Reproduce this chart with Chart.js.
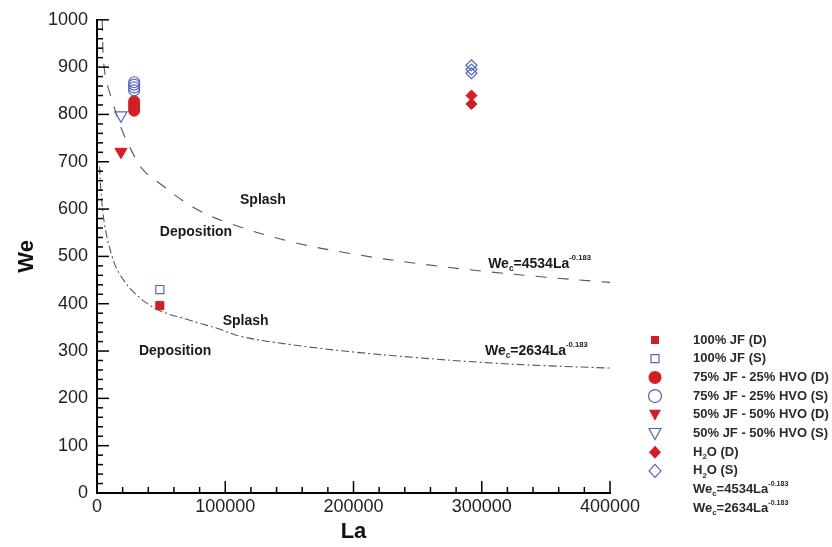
<!DOCTYPE html>
<html lang="en">
<head>
    <meta charset="UTF-8">
    <title>We vs La</title>
    <script src="https://cdn.jsdelivr.net/npm/chart.js"></script>
    <style>
        body {
            margin: 0;
            padding: 0;
            background-color: #ffffff;
        }
        #chartContainer {
            width: 832px;
            height: 547px;
            position: relative;
        }
    </style>
</head>
<body>
    <div id="chartContainer">
        <canvas id="weChart"></canvas>
    </div>
    <script>
        // Data
        const jfD_La = [49000];
        const jfD_We = [396];
        const jfS_La = [49000];
        const jfS_We = [430];
        const jf75D_La = [29000, 29000, 29000, 29000, 29000];
        const jf75D_We = [808, 813, 818, 823, 828];
        const jf75S_La = [29000, 29000, 29000, 29000];
        const jf75S_We = [851, 857, 863, 868];
        const jf50D_La = [18700];
        const jf50D_We = [721];
        const jf50S_La = [18700];
        const jf50S_We = [798];
        const h2oD_La = [292000, 292000];
        const h2oD_We = [822, 840];
        const h2oS_La = [292000, 292000, 292000];
        const h2oS_We = [887, 895, 904];

        // critical curves, points
        const curveHi_La = [4000, 6000, 12500, 19500, 27000, 36000, 50000, 75000, 100000, 150000, 200000, 250000, 300000, 350000, 400000];
        const curveHi_We = [1000, 890, 824, 767, 723, 683, 652, 604, 573, 532, 505, 485, 469, 456, 445];
        const curveLo_La = [2000, 3000, 6000, 12000, 18000, 30000, 47000, 70000, 96000, 112000, 150000, 200000, 250000, 300000, 350000, 400000];
        const curveLo_We = [690, 641, 566, 498, 461, 421, 388, 367, 346, 331, 314, 298, 286, 276, 269, 264];

        const xTicks = [0, 100000, 200000, 300000, 400000];
        const yTicks = [0, 100, 200, 300, 400, 500, 600, 700, 800, 900, 1000];

        // text placed on the plot (data coordinates)
        const plotLabels = [
            { la: 111500, we: 618, parts: [{ t: 'Splash' }] },
            { la: 49000, we: 551, parts: [{ t: 'Deposition' }] },
            { la: 98000, we: 363, parts: [{ t: 'Splash' }] },
            { la: 32700, we: 300, parts: [{ t: 'Deposition' }] },
            { la: 305000, we: 484, parts: [{ t: 'We' }, { t: 'c', sub: true }, { t: '=4534La' }, { t: '-0.183', sup: true }] },
            { la: 302500, we: 300, parts: [{ t: 'We' }, { t: 'c', sub: true }, { t: '=2634La' }, { t: '-0.183', sup: true }] }
        ];

        const RED = '#d21f26';
        const BLUE = '#5468b8';
        const FONT = "'Liberation Sans', Arial, sans-serif";

        function pts(xs, ys) {
            return xs.map((x, i) => ({ x: x, y: ys[i] }));
        }

        const legendItems = [
            { shape: 'square', fill: true, parts: [{ t: '100% JF (D)' }] },
            { shape: 'square', fill: false, parts: [{ t: '100% JF (S)' }] },
            { shape: 'circle', fill: true, parts: [{ t: '75% JF - 25% HVO (D)' }] },
            { shape: 'circle', fill: false, parts: [{ t: '75% JF - 25% HVO (S)' }] },
            { shape: 'tri', fill: true, parts: [{ t: '50% JF - 50% HVO (D)' }] },
            { shape: 'tri', fill: false, parts: [{ t: '50% JF - 50% HVO (S)' }] },
            { shape: 'diamond', fill: true, parts: [{ t: 'H' }, { t: '2', sub: true }, { t: 'O (D)' }] },
            { shape: 'diamond', fill: false, parts: [{ t: 'H' }, { t: '2', sub: true }, { t: 'O (S)' }] },
            { shape: null, parts: [{ t: 'We' }, { t: 'c', sub: true }, { t: '=4534La' }, { t: '-0.183', sup: true }] },
            { shape: null, parts: [{ t: 'We' }, { t: 'c', sub: true }, { t: '=2634La' }, { t: '-0.183', sup: true }] }
        ];

        // draws text with sub/superscripts, left aligned, vertically centred on y
        function drawRich(ctx, parts, x, y, size) {
            ctx.textBaseline = 'middle';
            ctx.textAlign = 'left';
            let cx = x;
            parts.forEach(p => {
                let s = size, dy = 0;
                if (p.sub) { s = size * 0.6; dy = size * 0.35; }
                if (p.sup) { s = size * 0.55; dy = -size * 0.42; }
                ctx.font = 'bold ' + s + 'px ' + FONT;
                ctx.fillText(p.t, cx, y + dy);
                cx += ctx.measureText(p.t).width;
            });
        }

        function drawMarker(ctx, shape, fill, x, y) {
            ctx.beginPath();
            if (shape === 'square') {
                ctx.rect(x - 4, y - 4, 8, 8);
            } else if (shape === 'circle') {
                ctx.arc(x, y, 6.5, 0, Math.PI * 2);
            } else if (shape === 'tri') {
                ctx.moveTo(x - 6, y - 5);
                ctx.lineTo(x + 6, y - 5);
                ctx.lineTo(x, y + 6);
                ctx.closePath();
            } else if (shape === 'diamond') {
                ctx.moveTo(x, y - 6.5);
                ctx.lineTo(x + 6, y);
                ctx.lineTo(x, y + 6.5);
                ctx.lineTo(x - 6, y);
                ctx.closePath();
            }
            if (fill) {
                ctx.fillStyle = RED;
                ctx.fill();
            } else {
                ctx.strokeStyle = BLUE;
                ctx.lineWidth = 1.2;
                ctx.stroke();
            }
        }

        // inward major/minor ticks, labels on plot, legend
        const decorPlugin = {
            id: 'decor',
            afterDraw(chart) {
                const ctx = chart.ctx;
                const xs = chart.scales.x, ys = chart.scales.y;
                const area = chart.chartArea;
                ctx.save();
                ctx.strokeStyle = '#000';
                ctx.lineWidth = 1.5;
                for (let v = 0; v <= 400000; v += 20000) {
                    const px = xs.getPixelForValue(v);
                    const len = v % 100000 === 0 ? 12 : 6;
                    ctx.beginPath();
                    ctx.moveTo(px, area.bottom);
                    ctx.lineTo(px, area.bottom - len);
                    ctx.stroke();
                }
                for (let v = 0; v <= 1000; v += 20) {
                    const py = ys.getPixelForValue(v);
                    const len = v % 100 === 0 ? 12 : 6;
                    ctx.beginPath();
                    ctx.moveTo(area.left, py);
                    ctx.lineTo(area.left + len, py);
                    ctx.stroke();
                }

                ctx.fillStyle = '#1a1a1a';
                plotLabels.forEach(l => {
                    drawRich(ctx, l.parts, xs.getPixelForValue(l.la), ys.getPixelForValue(l.we), 14);
                });

                // legend
                const lx = 655, tx = 693, ly0 = 340, step = 18.7;
                legendItems.forEach((it, i) => {
                    const y = ly0 + i * step;
                    if (it.shape) drawMarker(ctx, it.shape, it.fill, lx, y);
                    ctx.fillStyle = '#2a2a2a';
                    drawRich(ctx, it.parts, tx, y, 13);
                });
                ctx.restore();
            }
        };

        const markerSet = (label, xs, ys, style, filled, radius, rotation) => ({
            label: label,
            data: pts(xs, ys),
            pointStyle: style,
            pointRadius: radius,
            pointRotation: rotation || 0,
            pointBackgroundColor: filled ? RED : 'rgba(0,0,0,0)',
            pointBorderColor: filled ? RED : BLUE,
            pointBorderWidth: filled ? 1 : 1.2,
            showLine: false,
            order: 0
        });

        const ctx = document.getElementById('weChart').getContext('2d');
        const chart = new Chart(ctx, {
            type: 'scatter',
            data: {
                datasets: [
                    markerSet('100% JF (D)', jfD_La, jfD_We, 'rect', true, 5.7),
                    markerSet('100% JF (S)', jfS_La, jfS_We, 'rect', false, 5.7),
                    markerSet('75% JF - 25% HVO (S)', jf75S_La, jf75S_We, 'circle', false, 5.5),
                    markerSet('75% JF - 25% HVO (D)', jf75D_La, jf75D_We, 'circle', true, 5.5),
                    markerSet('50% JF - 50% HVO (D)', jf50D_La, jf50D_We, 'triangle', true, 7, 180),
                    markerSet('50% JF - 50% HVO (S)', jf50S_La, jf50S_We, 'triangle', false, 7, 180),
                    markerSet('H2O (S)', h2oS_La, h2oS_We, 'rectRot', false, 5.5),
                    markerSet('H2O (D)', h2oD_La, h2oD_We, 'rectRot', true, 5.5),
                    {
                        label: 'Wec=4534La^-0.183',
                        data: pts(curveHi_La, curveHi_We),
                        showLine: true,
                        borderColor: '#555',
                        borderWidth: 1.1,
                        borderDash: [11, 11],
                        pointRadius: 0,
                        tension: 0.4,
                        order: 1
                    },
                    {
                        label: 'Wec=2634La^-0.183',
                        data: pts(curveLo_La, curveLo_We),
                        showLine: true,
                        borderColor: '#555',
                        borderWidth: 1.1,
                        borderDash: [8, 3, 2, 3],
                        pointRadius: 0,
                        tension: 0.4,
                        order: 1
                    }
                ]
            },
            options: {
                responsive: true,
                maintainAspectRatio: false,
                animation: false,
                layout: { padding: { left: 0, top: 16, right: 222, bottom: 0 } },
                plugins: {
                    legend: { display: false },
                    tooltip: { enabled: false }
                },
                scales: {
                    x: {
                        type: 'linear',
                        min: 0,
                        max: 400000,
                        afterFit: s => { s.height = 54; },
                        afterBuildTicks: s => { s.ticks = xTicks.map(v => ({ value: v })); },
                        grid: { display: false, drawTicks: false },
                        border: { display: true, color: '#000', width: 2 },
                        ticks: {
                            autoSkip: false,
                            maxRotation: 0,
                            padding: 3,
                            color: '#222',
                            font: { family: FONT, size: 18 },
                            callback: v => String(v)
                        },
                        title: {
                            display: true,
                            text: 'La',
                            color: '#111',
                            padding: { top: 0, bottom: 2 },
                            font: { family: FONT, size: 22, weight: 'bold' }
                        }
                    },
                    y: {
                        min: 0,
                        max: 1000,
                        afterFit: s => { s.width = 97; },
                        afterBuildTicks: s => { s.ticks = yTicks.map(v => ({ value: v })); },
                        grid: { display: false, drawTicks: false },
                        border: { display: true, color: '#000', width: 2 },
                        ticks: {
                            padding: 9,
                            color: '#222',
                            font: { family: FONT, size: 18 },
                            callback: v => String(v)
                        },
                        title: {
                            display: true,
                            text: 'We',
                            color: '#111',
                            padding: { top: 14, bottom: 0 },
                            font: { family: FONT, size: 22, weight: 'bold' }
                        }
                    }
                }
            },
            plugins: [decorPlugin]
        });
    </script>
</body>
</html>
